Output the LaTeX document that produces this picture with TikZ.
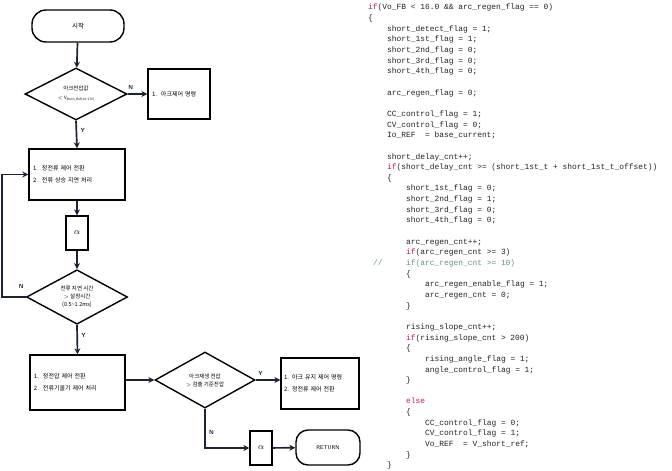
\documentclass[tikz,border=0pt]{standalone}
\usepackage{fontspec}
\setmonofont{Liberation Mono}
\newfontfamily\krfont{Noto Sans CJK KR}
\usetikzlibrary{arrows.meta,shapes.geometric,positioning}

\definecolor{flow}{RGB}{28,34,56}
\definecolor{codetext}{RGB}{35,35,35}
\definecolor{codekw}{RGB}{200,20,95}
\definecolor{codecmt}{RGB}{95,150,125}

\newlength\codeindent
\setlength\codeindent{19pt}
\newcommand\cind[1]{\hspace*{#1\codeindent}}
\newcommand\kw[1]{\textcolor{codekw}{#1}}

\tikzset{
  flowline/.style={draw=flow, line width=1.7pt},
  flowarrow/.style={flowline, -{Stealth[length=6pt,width=6pt]}},
  procbox/.style={draw=black, line width=1.4pt, rectangle, inner sep=4pt,
    font=\krfont\fontsize{6}{12}\selectfont, align=left},
  decision/.style={draw=black, line width=1.4pt, diamond, inner sep=0pt,
    font=\krfont\fontsize{5.5}{8}\selectfont, align=center},
  terminal/.style={draw=black, line width=1.4pt, rectangle, rounded corners=14pt,
    font=\krfont\fontsize{6.5}{8}\selectfont},
  yn/.style={font=\sffamily\bfseries\fontsize{6}{6}\selectfont, text=flow}
}

\begin{document}
\begin{tikzpicture}[x=1pt,y=-1pt]

\path [use as bounding box] (0,0) rectangle (672,471);

% FLOWCHART
\node [terminal, minimum width=92pt, minimum height=32pt] (start) at (78,26) {시작};
\node [decision, minimum width=102pt, minimum height=52pt] (arcv) at (76,94)
  {아크전압값\\[1pt]{\fontsize{4.5}{5}\selectfont $<$ V\textsubscript{Short\_Ref(14\textasciitilde17V)}}};
\node [procbox, minimum height=50pt, text width=54pt] (arcstop) at (179,94) {1.\ \ 아크제어 명령};
\node [procbox, minimum height=51pt, text width=88pt] (ccmode) at (77,174.5)
  {1.\ \ 정전류 제어 전환\\2.\ \ 전류 상승 지연 처리};
\node [procbox, minimum width=22pt, minimum height=34pt, inner sep=0pt, align=center,
  font=\fontsize{9}{9}\selectfont] (alphaA) at (77,233) {$\alpha$};
\node [decision, minimum width=101pt, minimum height=54pt] (delay) at (77,297)
  {전류 지연 시간\\$>$ 설정시간\\(0.5\textasciitilde1.2ms)};
\node [procbox, minimum height=55pt, text width=87pt] (cvmode) at (77.5,382.5)
  {1.\ \ 정전압 제어 전환\\2.\ \ 전류기울기 제어 처리};
\node [decision, minimum width=100pt, minimum height=56pt] (regen) at (205,380)
  {아크재생 전압\\$>$ 검출 기준전압};
\node [procbox, minimum height=51pt, text width=72pt, inner sep=3pt] (arckeep) at (320,383.5)
  {1. 아크 유지 제어 명령\\2. 정전류 제어 전환};
\node [procbox, minimum width=22pt, minimum height=34pt, inner sep=0pt, align=center,
  font=\fontsize{9}{9}\selectfont] (alphaB) at (261,448) {$\alpha$};
\node [terminal, minimum width=64pt, minimum height=35pt, rounded corners=12pt,
  font=\sffamily\fontsize{5.5}{6}\selectfont] (ret) at (328,447.5) {RETURN};

% CONNECTORS
\draw [flowarrow] (start) -- (arcv);
\draw [flowarrow] (arcv.east) -- node[yn, above, pos=0.15] {N} (arcstop.west);
\draw [flowarrow] (arcv.south) -- node[yn, right, pos=0.35] {Y} (ccmode.north);
\draw [flowarrow] (ccmode) -- (alphaA);
\draw [flowarrow] (alphaA) -- (delay.north);
\draw [flowarrow] (delay.west) -- ++(-24,0) node[yn, above right, xshift=13pt, yshift=4pt] {N} |- (ccmode.west);
\draw [flowarrow] (delay.south) -- node[yn, right, pos=0.35] {Y} (cvmode.north);
\draw [flowarrow] (cvmode.east |- regen.west) -- (regen.west);
\draw [flowarrow] (regen.east) -- node[yn, above, pos=0.2] {Y} (regen.east -| arckeep.west);
\draw [flowarrow] (regen.south) |- node[yn, right, pos=0.3] {N} (alphaB.west);
\draw [flowarrow] (alphaB) -- (ret);

% CODE
\node [anchor=north west, inner sep=0pt, align=left, text=codetext,
  font=\ttfamily\fontsize{7.9}{10.65}\selectfont] (code) at (368,4) {%
\kw{if}(Vo\_FB < 16.0 \&\& arc\_regen\_flag == 0)\\
\{\\
\cind{1}short\_detect\_flag = 1;\\
\cind{1}short\_1st\_flag = 1;\\
\cind{1}short\_2nd\_flag = 0;\\
\cind{1}short\_3rd\_flag = 0;\\
\cind{1}short\_4th\_flag = 0;\\
\mbox{}\\
\cind{1}arc\_regen\_flag = 0;\\
\mbox{}\\
\cind{1}CC\_control\_flag = 1;\\
\cind{1}CV\_control\_flag = 0;\\
\cind{1}Io\_REF\ \ = base\_current;\\
\mbox{}\\
\cind{1}short\_delay\_cnt++;\\
\cind{1}\kw{if}(short\_delay\_cnt >= (short\_1st\_t + short\_1st\_t\_offset))\\
\cind{1}\{\\
\cind{2}short\_1st\_flag = 0;\\
\cind{2}short\_2nd\_flag = 1;\\
\cind{2}short\_3rd\_flag = 0;\\
\cind{2}short\_4th\_flag = 0;\\
\mbox{}\\
\cind{2}arc\_regen\_cnt++;\\
\cind{2}\kw{if}(arc\_regen\_cnt >= 3)\\
\textcolor{codecmt}{\makebox[2\codeindent][l]{\hspace*{5pt}//}if(arc\_regen\_cnt >= 10)}\\
\cind{2}\{\\
\cind{3}arc\_regen\_enable\_flag = 1;\\
\cind{3}arc\_regen\_cnt = 0;\\
\cind{2}\}\\
\mbox{}\\
\cind{2}rising\_slope\_cnt++;\\
\cind{2}\kw{if}(rising\_slope\_cnt > 200)\\
\cind{2}\{\\
\cind{3}rising\_angle\_flag = 1;\\
\cind{3}angle\_control\_flag = 1;\\
\cind{2}\}\\
\mbox{}\\
\cind{2}\kw{else}\\
\cind{2}\{\\
\cind{3}CC\_control\_flag = 0;\\
\cind{3}CV\_control\_flag = 1;\\
\cind{3}Vo\_REF\ \ = V\_short\_ref;\\
\cind{2}\}\\
\cind{1}\}};

\end{tikzpicture}
\end{document}
